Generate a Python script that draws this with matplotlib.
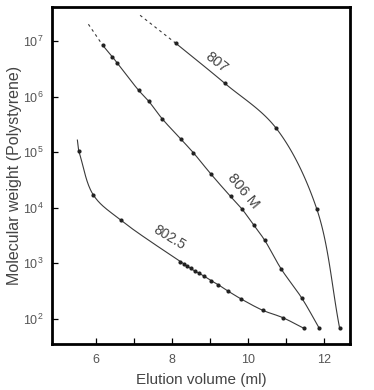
import numpy as np
import matplotlib
matplotlib.use("Agg")
import matplotlib.pyplot as plt
import matplotlib.ticker as mticker

plt.rcParams['font.family'] = ['Liberation Sans', 'DejaVu Sans']
plt.rcParams['mathtext.fontset'] = 'custom'
plt.rcParams['mathtext.rm'] = 'Liberation Sans'
plt.rcParams['mathtext.it'] = 'Liberation Sans:italic'

# column 807
v807 = [8.10, 9.39, 10.74, 11.81, 12.41]
m807 = [9.1e6, 1.73e6, 2.7e5, 9.5e3, 69]
v807_ext = [7.16, 8.10]
m807_ext = [2.9e7, 9.1e6]

# column 806 M
v806 = [6.18, 6.43, 6.56, 7.12, 7.39, 7.74, 8.24, 8.56, 9.03, 9.54,
        9.83, 10.15, 10.44, 10.87, 11.42, 11.87]
m806 = [8.3e6, 5.2e6, 4.0e6, 1.3e6, 8.2e5, 4.0e5, 1.7e5, 9.8e4, 4.0e4, 1.6e4,
        9.7e3, 4.9e3, 2.6e3, 800, 235, 69]
v806_ext = [5.80, 6.18]
m806_ext = [2.0e7, 8.3e6]

# column 802.5
v802 = [5.545, 5.93, 6.65, 8.22, 8.31, 8.40, 8.49, 8.60, 8.70, 8.85,
        9.03, 9.22, 9.47, 9.82, 10.39, 10.91, 11.47]
m802 = [1.05e5, 1.7e4, 6.0e3, 1.08e3, 980, 890, 810, 730, 671, 586,
        489, 412, 319, 229, 143, 106, 68]
v802_ext = [5.51, 5.545]
m802_ext = [1.65e5, 1.05e5]

xticks = [6, 7, 8, 9, 10, 11, 12]
xticklabels = ['6', '', '8', '', '10', '', '12']
yticks = [1e2, 1e3, 1e4, 1e5, 1e6, 1e7]
yticklabels = [r'$\mathregular{10^{%d}}$' % k for k in range(2, 8)]

LINE = '#3a3a3a'
TXT = '#444444'


def smooth(xs, ms, n=30):
    # centripetal catmull-rom through the points, drawn in (x, log m) space
    p = np.column_stack([np.array(xs) * 38.0, np.log10(ms) * 55.6])
    p = np.vstack([2 * p[0] - p[1], p, 2 * p[-1] - p[-2]])
    out = []
    for i in range(1, len(p) - 2):
        p0, p1, p2, p3 = p[i - 1], p[i], p[i + 1], p[i + 2]
        t0 = 0.0
        t1 = t0 + np.linalg.norm(p1 - p0) ** 0.5
        t2 = t1 + np.linalg.norm(p2 - p1) ** 0.5
        t3 = t2 + np.linalg.norm(p3 - p2) ** 0.5
        t = np.linspace(t1, t2, n)[:, None]
        a1 = (t1 - t) / (t1 - t0) * p0 + (t - t0) / (t1 - t0) * p1
        a2 = (t2 - t) / (t2 - t1) * p1 + (t - t1) / (t2 - t1) * p2
        a3 = (t3 - t) / (t3 - t2) * p2 + (t - t2) / (t3 - t2) * p3
        b1 = (t2 - t) / (t2 - t0) * a1 + (t - t0) / (t2 - t0) * a2
        b2 = (t3 - t) / (t3 - t1) * a2 + (t - t1) / (t3 - t1) * a3
        c = (t2 - t) / (t2 - t1) * b1 + (t - t1) / (t2 - t1) * b2
        out.append(c)
    c = np.vstack(out)
    return c[:, 0] / 38.0, 10 ** (c[:, 1] / 55.6)


fig = plt.figure(figsize=(3.74, 3.90), dpi=100)
ax = fig.add_axes([52 / 374, 1 - 344 / 390, 298 / 374, 337 / 390])
ax.set_yscale('log')

for v, m in [(v807, m807), (v806, m806), (v802, m802)]:
    sx, sy = smooth(v, m)
    ax.plot(sx, sy, color=LINE, lw=0.8, zorder=2)
    ax.plot(v, m, 'o', color='#222222', ms=3.0, mew=0, zorder=3)

ax.plot(v807_ext, m807_ext, color=LINE, lw=0.8, ls=(0, (2.5, 3)))
ax.plot(v806_ext, m806_ext, color=LINE, lw=0.8, ls=(0, (2.5, 3)))
ax.plot(v802_ext, m802_ext, color=LINE, lw=0.8)

ax.text(9.18, 10 ** 6.62, '807', rotation=-38, fontsize=10.5, color=TXT,
        ha='center', va='center')
ax.text(9.87, 10 ** 4.30, '806 M', rotation=-50, fontsize=10.5, color=TXT,
        ha='center', va='center')
ax.text(7.92, 10 ** 3.466, '802.5', rotation=-31, fontsize=10, color=TXT,
        ha='center', va='center')

ax.set_xlim(4.842, 12.684)
ax.set_ylim(10 ** 1.55, 10 ** 7.611)
ax.set_xticks(xticks)
ax.set_xticklabels(xticklabels)
ax.yaxis.set_major_locator(mticker.FixedLocator(yticks))
ax.yaxis.set_major_formatter(mticker.FixedFormatter(yticklabels))
ax.yaxis.set_minor_locator(mticker.NullLocator())
ax.tick_params(direction='in', length=4, width=0.9, labelsize=9,
               labelcolor='#555555')
ax.tick_params(axis='x', pad=7)
ax.tick_params(axis='y', pad=6)

for s in ax.spines.values():
    s.set_linewidth(2.0)

ax.set_xlabel('Elution volume (ml)', fontsize=11, color=TXT, labelpad=5)
ax.set_ylabel('Molecular weight (Polystyrene)', fontsize=11.5, color=TXT)
ax.yaxis.set_label_coords(-0.1, 0.5)

fig.savefig('out.png', dpi=100)
